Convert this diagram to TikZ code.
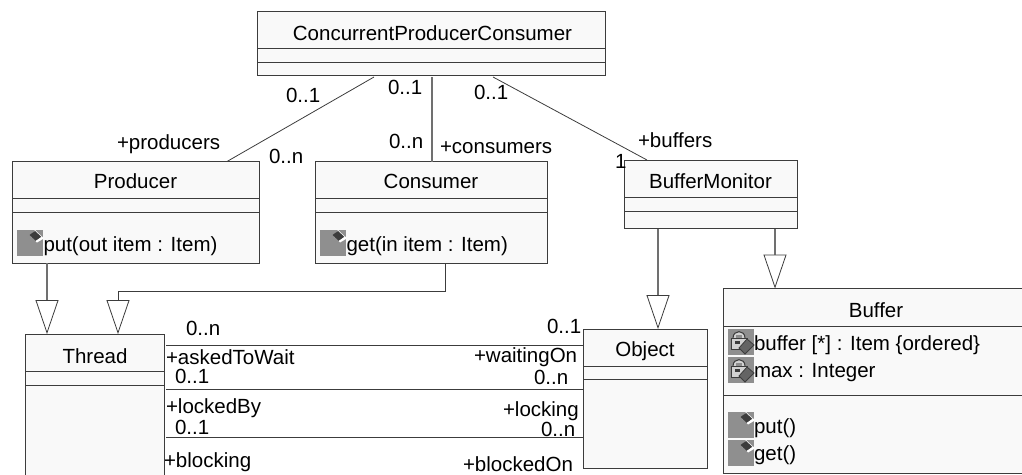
\documentclass[tikz,border=0pt]{standalone}
\usepackage{fontspec}
\setmainfont{Liberation Sans}
\usetikzlibrary{arrows.meta}
\definecolor{boxfill}{HTML}{F9F9F9}
\definecolor{edge}{HTML}{3C3C3C}
\definecolor{stem}{HTML}{707070}
\definecolor{icongrey}{HTML}{8F8F8F}
\newcommand{\umlbox}[5]{% name, x1, y1, x2, y2
  \node[umlbox, anchor=north west, minimum width=#4pt-#2pt, minimum height=#5pt-#3pt] (#1) at (#2,#3) {};}
\newcommand{\sepline}[3]{\draw[sep] (#1.west |- 0,#2) -- (#1.east |- 0,#2);\draw[sep] (#1.west |- 0,#3) -- (#1.east |- 0,#3);}
\newcommand{\opicon}[2]{% top-left of grey square
  \begin{scope}[shift={(#1,#2)}]
    \fill[icongrey] (0,0) rectangle (26,26);
    \fill[white] (18,0) -- (26,7.5) -- (14,7) -- cycle;
    \fill[edge] (18,1) -- (24.5,7) -- (19,11) -- (12.5,5) -- cycle;
    \fill[white] (25,6.5) -- (26,7.5) -- (26,9) -- (20,12.5) -- (18.5,11) -- cycle;
  \end{scope}}
\newcommand{\attricon}[2]{%
  \begin{scope}[shift={(#1,#2)}]
    \fill[icongrey] (0,0) rectangle (26,26);
    \draw[edge,line width=1pt,fill=icongrey!40] (5,9) .. controls (5,0.5) and (17,0.5) .. (17,9);
    \fill[icongrey] (8,9) rectangle (14,6);
    \draw[edge,line width=1pt,fill=icongrey!40] (3,9) rectangle (19,20);
    \fill[edge] (7,12) rectangle (12,14.5);
    \draw[edge,line width=.8pt,fill=icongrey!70!black] (19,10) -- (26,16) -- (17,25) -- (11,19) -- cycle;
  \end{scope}}
\tikzset{
  x=1pt,y=-1pt,
  umlbox/.style={draw=edge,fill=boxfill,line width=1pt,inner sep=0pt,outer sep=0pt},
  sep/.style={draw=edge,line width=1pt},
  assoc/.style={draw=edge,line width=.8pt},
  vassoc/.style={draw=stem,line width=1.2pt},
  gen/.style={draw=stem,line width=1.2pt,-{Triangle[open,color=edge,line width=.8pt,fill=white,length=34pt,width=23pt]}},
  gendark/.style={gen,draw=edge,line width=.8pt},
  txt/.style={anchor=base west,inner sep=0pt,outer sep=0pt,font=\fontsize{20.5pt}{24pt}\selectfont,text=black},
  cname/.style={txt,anchor=base},
}
\begin{document}
\begin{tikzpicture}
\useasboundingbox (0,0) rectangle (1022,474);
\clip (0,0) rectangle (1022,474);
\umlbox{cpc}{257.5}{11}{605}{75}
\sepline{cpc}{48.5}{62}
\umlbox{prod}{12.5}{161.5}{259}{263}
\sepline{prod}{198}{212}
\umlbox{cons}{315.5}{161.5}{547}{263}
\sepline{cons}{198}{212}
\umlbox{mon}{624}{160}{797}{228.5}
\sepline{mon}{197.5}{211}
\umlbox{buf}{723.5}{288.5}{1026}{473}
\sepline{buf}{326}{395}
\umlbox{thr}{25}{334}{164.5}{480}
\sepline{thr}{371}{385}
\umlbox{obj}{583.5}{329}{707}{468.5}
\sepline{obj}{366}{379}
% associations
\draw[assoc] ([xshift=116.5pt,yshift=-2pt]cpc.south west) -- ([xshift=214.5pt]prod.north west);
\draw[vassoc] ([xshift=174.5pt,yshift=-2pt]cpc.south west) -- ([xshift=116.5pt]cons.north west);
\draw[assoc] ([xshift=235.5pt,yshift=-2pt]cpc.south west) -- ([xshift=23pt]mon.north west);
\draw[assoc] ([xshift=1.5pt,yshift=-11pt]thr.north east) -- ([yshift=-16pt]obj.north west);
\draw[assoc] ([xshift=1.5pt,yshift=-55pt]thr.north east) -- ([yshift=-60pt]obj.north west);
\draw[assoc] ([xshift=1.5pt,yshift=-103pt]thr.north east) -- ([yshift=-108pt]obj.north west);
% generalisations
\draw[gen] ([xshift=34.5pt]prod.south west) -- ([xshift=22pt]thr.north west);
\draw[gendark] ([xshift=129.5pt]cons.south west) |- (118,291) -- ([xshift=93pt]thr.north west);
\draw[gen] ([xshift=34pt]mon.south west) -- ([xshift=74.5pt]obj.north west);
\draw[gen] ([xshift=151pt]mon.south west) -- ([xshift=51.5pt]buf.north west);
% class names
\node[cname] (ncpc) at (432.5,40) {ConcurrentProducerConsumer};
\node[cname] (nprod) at (135.5,188) {Producer};
\node[cname] (ncons) at (431,188) {Consumer};
\node[cname] (nmon) at (710.5,188) {BufferMonitor};
\node[cname] (nbuf) at (876,317) {Buffer};
\node[cname] (nthr) at (95,363) {Thread};
\node[cname] (nobj) at (645,356) {Object};
% members
\opicon{17}{230}
\node[txt] (m1) at (43.5,251) {put(out item : Item)};
\opicon{320}{230}
\node[txt] (m2) at (346.5,251) {get(in item : Item)};
\attricon{728}{329}
\node[txt] (m3) at (754,350) {buffer [*] : Item \{ordered\}};
\attricon{728}{357}
\node[txt] (m4) at (754,377) {max : Integer};
\opicon{728}{412}
\node[txt] (m5) at (754,433) {put()};
\opicon{728}{440}
\node[txt] (m6) at (754,460) {get()};
% role and multiplicity labels
\node[txt] (l1) at (286,102) {0..1};
\node[txt] (l2) at (117,149) {+producers};
\node[txt] (l3) at (269,163) {0..n};
\node[txt] (l4) at (388,94) {0..1};
\node[txt] (l5) at (389,148) {0..n};
\node[txt] (l6) at (440,153) {+consumers};
\node[txt] (l7) at (474,99) {0..1};
\node[txt] (l8) at (638,147) {+buffers};
\node[txt] (l9) at (615,168) {1};
\node[txt] (l10) at (186,335) {0..n};
\node[txt] (l11) at (166,364) {+askedToWait};
\node[txt] (l12) at (175,383) {0..1};
\node[txt] (l13) at (166,413) {+lockedBy};
\node[txt] (l14) at (175,434) {0..1};
\node[txt] (l15) at (164,467) {+blocking};
\node[txt] (r1) at (547,333) {0..1};
\node[txt] (r2) at (474,362) {+waitingOn};
\node[txt] (r3) at (534,384) {0..n};
\node[txt] (r4) at (503,416) {+locking};
\node[txt] (r5) at (541,436) {0..n};
\node[txt] (r6) at (463,471) {+blockedOn};
\end{tikzpicture}
\end{document}
